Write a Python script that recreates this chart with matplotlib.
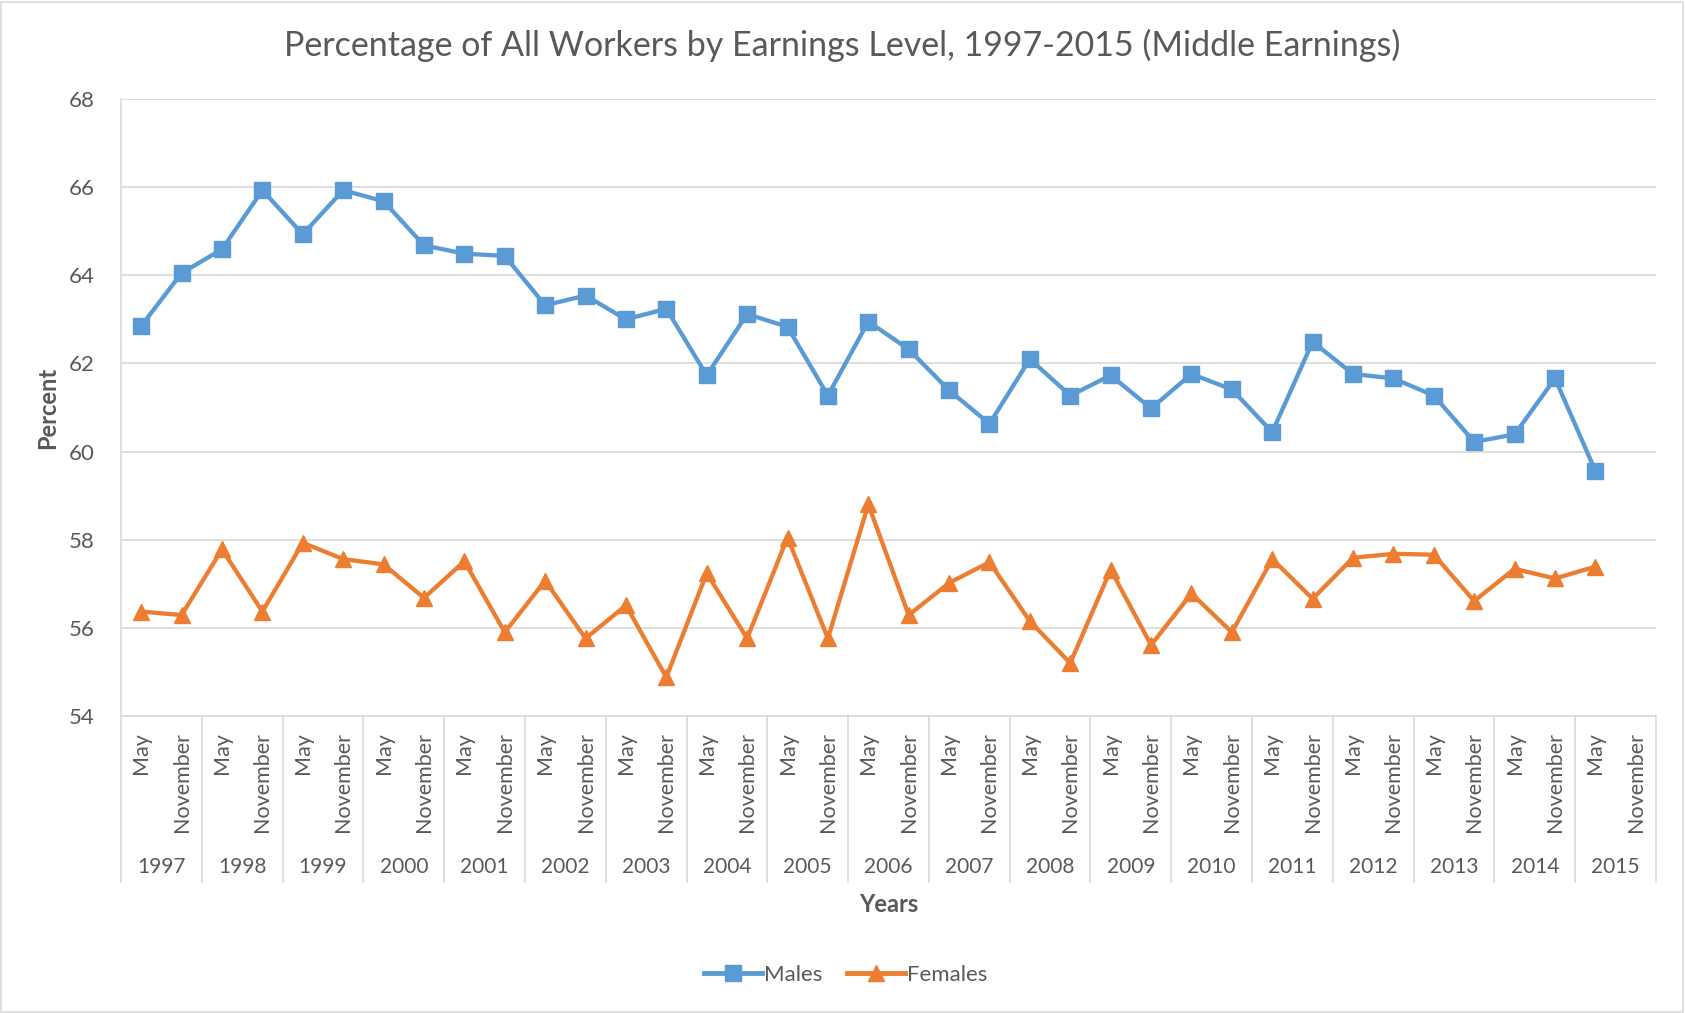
import numpy as np
import matplotlib.pyplot as plt
from matplotlib.lines import Line2D
from matplotlib.patches import Rectangle

plt.rcParams['font.family'] = ['Lato', 'DejaVu Sans']

# Data
years = [str(y) for y in range(1997, 2016)]
months = ['May', 'November']
males = [62.85, 64.05, 64.59, 65.93, 64.93, 65.93, 65.68, 64.68, 64.49, 64.44,
         63.32, 63.54, 63.00, 63.24, 61.73, 63.12, 62.83, 61.27, 62.95, 62.32,
         61.39, 60.63, 62.10, 61.27, 61.73, 60.98, 61.76, 61.41, 60.44, 62.49,
         61.76, 61.66, 61.27, 60.22, 60.39, 61.66, 59.56]
females = [56.37, 56.29, 57.78, 56.37, 57.93, 57.56, 57.44, 56.68, 57.51, 55.90,
           57.07, 55.76, 56.51, 54.88, 57.24, 55.76, 58.05, 55.76, 58.80, 56.29,
           57.02, 57.49, 56.15, 55.20, 57.32, 55.61, 56.78, 55.90, 57.56, 56.66,
           57.59, 57.68, 57.66, 56.61, 57.34, 57.12, 57.39]

blue = '#5B9BD5'
orange = '#ED7D31'
txt = '#595959'
grid = '#D9D9D9'

W, H = 1685, 1013
fig = plt.figure(figsize=(W / 100, H / 100), dpi=100)

# chart border
fig.patches.append(Rectangle((1 / W, 1 / H), 1 - 3 / W, 1 - 3 / H, transform=fig.transFigure,
                             fill=False, edgecolor=grid, linewidth=1.2))

left, right, top, bottom = 121, 1656, 99, 716
ax = fig.add_axes([left / W, 1 - bottom / H, (right - left) / W, (bottom - top) / H])

n = len(years) * 2
x = np.arange(len(males)) + 0.5
ax.plot(x, males, color=blue, lw=3.1, marker='s', ms=11, label='Males', zorder=3)
ax.plot(x, females, color=orange, lw=3.1, marker='^', ms=11, label='Females', zorder=3)

ax.set_xlim(0, n)
ax.set_ylim(54, 68)
ax.set_yticks(np.arange(54, 69, 2))
ax.yaxis.grid(True, color=grid, lw=1.2)
ax.set_axisbelow(True)
for s in ['top', 'right']:
    ax.spines[s].set_visible(False)
ax.spines['left'].set_color(grid)
ax.spines['bottom'].set_color(grid)
ax.spines['left'].set_linewidth(1.2)
ax.spines['bottom'].set_linewidth(1.2)
ax.tick_params(axis='y', length=0, labelsize=16, labelcolor=txt, pad=19)
ax.set_xticks([])

# two-level category axis
ext = (882 - bottom) / (bottom - top)
trans = ax.get_xaxis_transform()
for k in range(len(years) + 1):
    ax.plot([2 * k, 2 * k], [0, -ext], transform=trans, color=grid, lw=1.2, clip_on=False)
month_y = -(732 - bottom) / (bottom - top)
year_y = -(867 - bottom) / (bottom - top)
for i in range(n):
    ax.text(i + 0.5, month_y, months[i % 2], transform=trans, rotation=90,
            ha='center', va='top', fontsize=15.5, color=txt)
for k, yr in enumerate(years):
    ax.text(2 * k + 1, year_y, yr, transform=trans, ha='center', va='center',
            fontsize=15, color=txt)

fig.text(0.5, 1 - 45 / H, 'Percentage of All Workers by Earnings Level, 1997-2015 (Middle Earnings)',
         ha='center', va='center', fontsize=24.5, color=txt)
fig.text((left + right) / 2 / W, 1 - 904 / H, 'Years', ha='center', va='center',
         fontsize=17, fontweight='bold', color=txt)
fig.text(48 / W, 1 - 408 / H, 'Percent', ha='center', va='center', rotation=90,
         fontsize=17, fontweight='bold', color=txt)

handles = [Line2D([], [], color=blue, lw=3.5, marker='s', ms=11),
           Line2D([], [], color=orange, lw=3.5, marker='^', ms=11)]
fig.legend(handles, ['Males', 'Females'], loc='center', bbox_to_anchor=(846 / W, 1 - 975 / H),
           ncol=2, frameon=False, fontsize=16, labelcolor=txt, handlelength=2.6,
           handletextpad=0.1, columnspacing=1.1)

fig.savefig('out.png', dpi=100)
